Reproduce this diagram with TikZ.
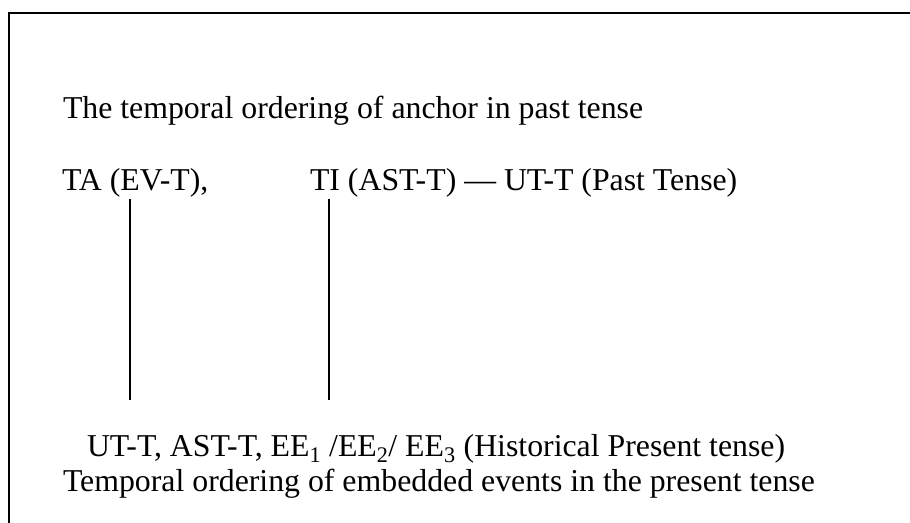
\documentclass[tikz,border=0pt]{standalone}
\usepackage{fontspec}
\setmainfont{Liberation Serif}
\begin{document}
\begin{tikzpicture}[x=1pt,y=-1pt,
  txt/.style={anchor=base west,inner sep=0pt,outer sep=0pt,font=\fontsize{31.8}{38}\selectfont},
  link/.style={line width=1.8pt},
  frame/.style={line width=2pt}]
\useasboundingbox (0,0) rectangle (910,522);
\draw[frame] (8.5,523) -- (8.5,12.5) -- (911,12.5);
\node[txt] (title) at (63,118) {The temporal ordering of anchor in past tense};
\node[txt] (ta) at (62,190) {TA (EV-T),};
\node[txt] (ti) at (310,190) {TI (AST-T) — UT-T (Past Tense)};
\node[txt] (b1) at (87,456) {UT-T, AST-T, EE\textsubscript{1} /EE\textsubscript{2}/ EE\textsubscript{3} (Historical Present tense)};
\node[txt] (b2) at (63,491) {Temporal ordering of embedded events in the present tense};
\coordinate (ta-foot) at (130,199);
\coordinate (ti-foot) at (329,199);
\coordinate (b1-top-a) at (130,400);
\coordinate (b1-top-b) at (329,400);
\draw[link] (ta-foot) -- (b1-top-a);
\draw[link] (ti-foot) -- (b1-top-b);
\end{tikzpicture}
\end{document}
